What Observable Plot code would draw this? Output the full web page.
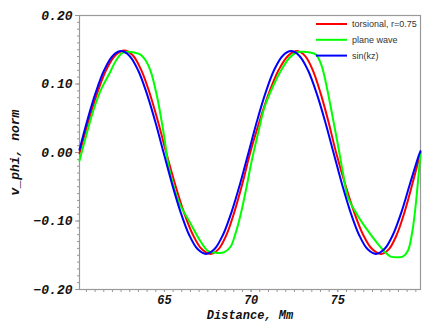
<!DOCTYPE html>
<html>
<head>
<meta charset="utf-8">
<script src="https://cdn.jsdelivr.net/npm/d3@7"></script>
<script src="https://cdn.jsdelivr.net/npm/@observablehq/plot@0.6"></script>
<style>
  html, body { margin: 0; padding: 0; background: #fff; }
  #chart { width: 436px; height: 326px; }
</style>
</head>
<body>
<div id="chart"></div>
<script>
// ---- data ----
const seriesNames = ["torsional, r=0.75", "plane wave", "sin(kz)"];
const seriesColors = ["#ff0000", "#00ff00", "#0000ff"];

const torsionalX = [60.10, 60.62, 61.14, 61.65, 62.17, 62.69, 63.17, 63.65, 64.13, 64.62, 65.10,
  65.61, 66.12, 66.64, 67.15, 67.66, 68.12, 68.58, 69.03, 69.49, 69.95,
  70.49, 71.03, 71.58, 72.12, 72.66, 73.11, 73.56, 74.00, 74.45, 74.90,
  75.42, 75.94, 76.46, 76.98, 77.50, 77.95, 78.40, 78.85, 79.30, 79.77];
const torsionalV = [-0.001, 0.046, 0.088, 0.121, 0.142, 0.149, 0.142, 0.121, 0.088, 0.046, 0.000,
  -0.046, -0.087, -0.120, -0.141, -0.148, -0.141, -0.120, -0.087, -0.046, 0.000,
  0.046, 0.087, 0.120, 0.141, 0.148, 0.141, 0.120, 0.087, 0.046, 0.000,
  -0.046, -0.087, -0.120, -0.141, -0.148, -0.141, -0.120, -0.087, -0.046, 0.000];

const planeX = [60.10, 60.50, 60.96, 61.40, 61.82, 62.20, 62.55, 62.90, 63.25, 63.62, 63.90,
  64.19, 64.58, 64.96, 65.25, 65.60, 65.90, 66.47, 67.04, 67.52, 67.90, 68.40, 68.80,
  69.10, 69.40, 69.77, 70.00, 70.40, 70.77, 71.25, 71.73, 72.20, 72.60, 73.00, 73.40,
  73.73, 74.05, 74.40, 74.70, 75.00, 75.30, 75.58, 76.10, 76.70, 77.30, 77.75, 78.05,
  78.40, 78.75, 79.05, 79.30, 79.50, 79.65, 79.77];
const planeV = [-0.012, 0.026, 0.066, 0.095, 0.115, 0.134, 0.145, 0.147, 0.146, 0.143, 0.135,
  0.120, 0.081, 0.027, -0.021, -0.055, -0.076, -0.102, -0.128, -0.144, -0.146, -0.146, -0.138,
  -0.118, -0.090, -0.046, -0.016, 0.028, 0.066, 0.096, 0.120, 0.138, 0.146, 0.147, 0.146,
  0.143, 0.128, 0.091, 0.052, 0.012, -0.030, -0.065, -0.090, -0.113, -0.133, -0.146, -0.152,
  -0.153, -0.152, -0.143, -0.115, -0.075, -0.035, -0.002];

const sinX = [60.10, 60.54, 61.03, 61.52, 62.01, 62.50, 62.99, 63.48, 63.97, 64.46, 64.95,
  65.44, 65.93, 66.42, 66.91, 67.40, 67.89, 68.38, 68.87, 69.36, 69.85,
  70.34, 70.83, 71.32, 71.81, 72.30, 72.79, 73.28, 73.77, 74.26, 74.75,
  75.24, 75.73, 76.22, 76.71, 77.20, 77.69, 78.18, 78.67, 79.16, 79.65, 79.77];
const sinV = [0.004, 0.046, 0.087, 0.120, 0.141, 0.148, 0.141, 0.120, 0.087, 0.046, 0.000,
  -0.046, -0.087, -0.120, -0.141, -0.148, -0.141, -0.120, -0.087, -0.046, 0.000,
  0.046, 0.087, 0.120, 0.141, 0.148, 0.141, 0.120, 0.087, 0.046, 0.000,
  -0.046, -0.087, -0.120, -0.141, -0.148, -0.141, -0.120, -0.087, -0.046, -0.006, 0.002];

const xTickValues = [65, 70, 75];
const yTickValues = [-0.20, -0.10, 0.00, 0.10, 0.20];
const xDomain = [60.1, 79.77];
const yDomain = [-0.2, 0.2];
const xLabel = "Distance, Mm";
const yLabel = "v_phi, norm";

// ---- build tables ----
const toRows = (xs, vs, name) => xs.map((x, i) => ({x, v: vs[i], name}));
const series = [
  toRows(torsionalX, torsionalV, seriesNames[0]),
  toRows(planeX, planeV, seriesNames[1]),
  toRows(sinX, sinV, seriesNames[2])
];
const xMinor = d3.range(60.5, 79.8, 0.5);
const yMinor = d3.range(-20, 21, 1).map(d => d / 100);

const yFont = {fontFamily: "Liberation Mono", fontWeight: "bold", fontStyle: "italic", fontSize: 13};
const xFont = {fontFamily: "Liberation Mono", fontWeight: "bold", fontStyle: "italic", fontSize: 12};

const chart = Plot.plot({
  width: 436,
  height: 326,
  marginLeft: 79,
  marginRight: 16,
  marginTop: 15,
  marginBottom: 37,
  x: {domain: xDomain},
  y: {domain: yDomain},
  style: {background: "#fff", color: "#111", fontFamily: "Liberation Mono"},
  marks: [
    Plot.axisY(yMinor, {tickSize: 2, text: null, stroke: "#999", label: null}),
    Plot.axisY(yTickValues, {tickSize: 4, tickPadding: 3, stroke: "#999",
      tickFormat: d3.format(".2f"), ...yFont,
      label: yLabel, labelAnchor: "center", labelArrow: false, labelOffset: 70}),
    Plot.axisX(xMinor, {tickSize: 3, text: null, stroke: "#999", label: null}),
    Plot.axisX(xTickValues, {tickSize: 3, tickPadding: 2.5, stroke: "#999",
      tickFormat: d => String(d), ...xFont,
      label: xLabel, labelAnchor: "center", labelArrow: false, labelOffset: 29}),
    Plot.frame({stroke: "#999", strokeWidth: 1.2}),
    ...series.map((rows, i) => Plot.line(rows, {x: "x", y: "v", stroke: seriesColors[i], strokeWidth: 2, curve: "catmull-rom"}))
  ]
});

document.getElementById("chart").appendChild(chart);

// legend (layout positions in pixels, inside the plot frame)
const svg = d3.select(chart);
const lg = svg.append("g")
  .attr("font-family", "Liberation Sans")
  .attr("font-size", 9)
  .attr("font-style", "normal")
  .attr("font-weight", "normal")
  .attr("text-anchor", "start")
  .attr("fill", "#333");
seriesNames.forEach((name, i) => {
  const y = 24 + i * 15.8;
  lg.append("line").attr("x1", 316).attr("x2", 347).attr("y1", y).attr("y2", y)
    .attr("stroke", seriesColors[i]).attr("stroke-width", 2);
  lg.append("text").attr("x", 352).attr("y", y).attr("dy", "0.35em").text(name);
});
</script>
</body>
</html>
